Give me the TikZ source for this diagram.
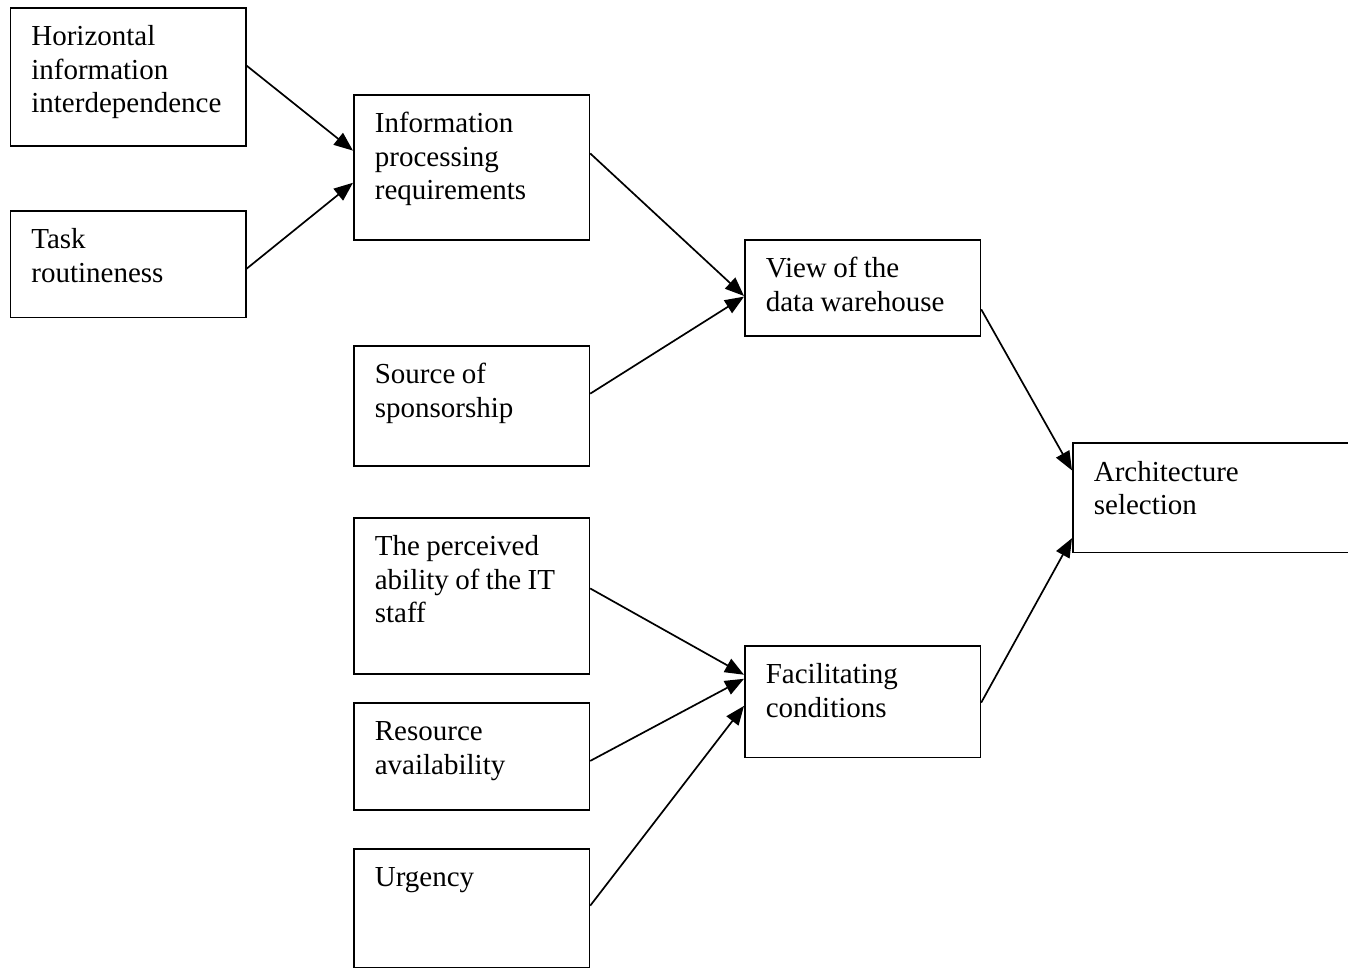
\documentclass[tikz,border=0pt]{standalone}
\usepackage{fontspec}
\setmainfont{Liberation Serif}
\usetikzlibrary{arrows.meta,calc}
\newlength{\du}
\setlength{\du}{1pt}
% box content: fixed height, text hung from the top
\newcommand{\boxtext}[2]{\parbox[c][#1\du][t]{\hsize}{\raggedright\spaceskip=0.22em\relax\rule{0pt}{38\du}#2}}
\tikzset{
  factor/.style={draw, line width=1.7\du, inner xsep=21\du, inner ysep=0pt,
    anchor=north west, text width=193.5\du,
    font=\fontsize{29}{33.3}\selectfont},
  link/.style={line width=1.7\du, -{Triangle[length=19pt,width=15pt]}}
}

\begin{document}
\begin{tikzpicture}[yscale=-1]
\useasboundingbox (0,0) rectangle (1348\du,968\du);
\clip (0,0) rectangle (1348\du,968\du);
% first column
\node[factor] (hid) at (9.5\du,7\du) {\boxtext{138.5}{Horizontal\\information\\interdependence}};
\node[factor] (task) at (9.5\du,210\du) {\boxtext{106.5}{Task\\routineness}};
% second column
\node[factor] (ipr) at (353\du,94\du) {\boxtext{145}{Information\\processing\\requirements}};
\node[factor] (spons) at (353\du,345\du) {\boxtext{120}{Source of\\sponsorship}};
\node[factor] (itstaff) at (353\du,517\du) {\boxtext{156}{The perceived\\ability of the IT\\staff}};
\node[factor] (resav) at (353\du,702\du) {\boxtext{107}{Resource\\availability}};
\node[factor] (urg) at (353\du,848\du) {\boxtext{118.5}{Urgency}};
% third column
\node[factor] (view) at (744\du,239\du) {\boxtext{96}{View of the\\data warehouse}};
\node[factor] (facil) at (744\du,645\du) {\boxtext{111.7}{Facilitating\\conditions}};
% last box runs off the page
\node[factor, text width=243\du] (arch) at (1072\du,442.3\du) {\boxtext{109.4}{Architecture\\selection}};
% connectors
\draw[link] ($(hid.north east)!0.419!(hid.south east)$) -- ($(ipr.north west)!0.386!(ipr.south west)$);
\draw[link] ($(task.north east)!0.542!(task.south east)$) -- ($(ipr.north west)!0.605!(ipr.south west)$);
\draw[link] ($(ipr.north east)!0.405!(ipr.south east)$) -- ($(view.north west)!0.583!(view.south west)$);
\draw[link] ($(spons.north east)!0.40!(spons.south east)$) -- ($(view.north west)!0.59!(view.south west)$);
\draw[link] ($(itstaff.north east)!0.453!(itstaff.south east)$) -- ($(facil.north west)!0.262!(facil.south west)$);
\draw[link] ($(resav.north east)!0.542!(resav.south east)$) -- ($(facil.north west)!0.298!(facil.south west)$);
\draw[link] ($(urg.north east)!0.48!(urg.south east)$) -- ($(facil.north west)!0.537!(facil.south west)$);
\draw[link] ($(view.north east)!0.72!(view.south east)$) -- ($(arch.north west)!0.253!(arch.south west)$);
\draw[link] ($(facil.north east)!0.508!(facil.south east)$) -- ($(arch.north west)!0.863!(arch.south west)$);
\end{tikzpicture}
\end{document}
